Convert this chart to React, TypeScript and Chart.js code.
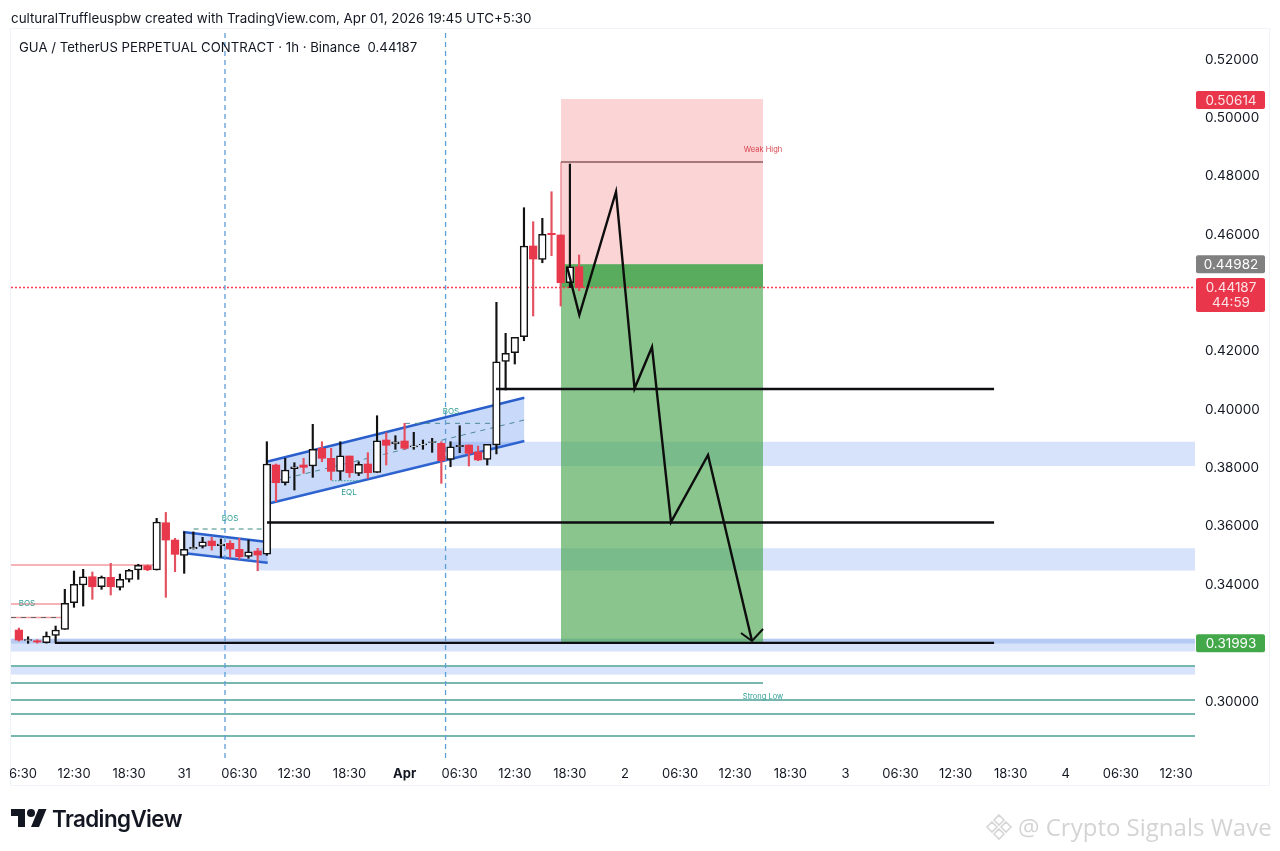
import React, { useEffect, useRef } from "react";
import { Chart, registerables } from "chart.js";

Chart.register(...registerables);

// ---- candles (hourly) -------------------------------------------------
const candleHours = [-6,-5,-4,-3,-2,-1,0,1,2,3,4,5,6,7,8,9,10,11,12,13,14,15,16,17,18,19,20,21,22,23,24,25,26,27,28,29,30,31,32,33,34,35,36,37,38,39,40,41,42,43,44,45,46,47,48,49,50,51,52,53,54,55];
const opens = [0.32449,0.32089,0.32082,0.32013,0.32267,0.32473,0.33384,0.33991,0.34276,0.33933,0.34255,0.33912,0.34186,0.34505,0.34652,0.34505,0.36126,0.35533,0.35008,0.35234,0.35317,0.35499,0.35338,0.3542,0.35214,0.34974,0.35156,0.35053,0.38104,0.37497,0.37977,0.38104,0.3807,0.38676,0.38333,0.37887,0.38412,0.37819,0.38138,0.37853,0.3896,0.38823,0.38926,0.3872,0.38789,0.38882,0.38847,0.38299,0.38731,0.38789,0.38551,0.38299,0.38789,0.41657,0.41952,0.42501,0.45609,0.45153,0.46044,0.45986,0.44351,0.44899];
const highs = [0.32517,0.32219,0.32117,0.32383,0.32586,0.33844,0.34471,0.34529,0.34437,0.343,0.34735,0.34368,0.34529,0.347,0.34676,0.36277,0.36479,0.35591,0.35812,0.35812,0.35626,0.35626,0.35568,0.3551,0.35591,0.35533,0.35248,0.38902,0.38138,0.38333,0.38183,0.38333,0.39498,0.38902,0.38676,0.38902,0.38412,0.38217,0.38526,0.39793,0.3921,0.39108,0.39533,0.39224,0.3896,0.39018,0.38902,0.38902,0.3945,0.38789,0.38755,0.38813,0.43679,0.42616,0.4248,0.46921,0.46441,0.46558,0.47469,0.45986,0.48418,0.453];
const lows = [0.32072,0.31993,0.32,0.32,0.32013,0.32473,0.33227,0.33271,0.33501,0.33844,0.33648,0.3382,0.34094,0.34186,0.34481,0.34505,0.3357,0.34447,0.34392,0.35224,0.35258,0.3519,0.3494,0.3494,0.34872,0.34906,0.34481,0.35008,0.36846,0.37418,0.37247,0.37819,0.37682,0.38217,0.37589,0.37589,0.37682,0.3774,0.37648,0.37853,0.38104,0.38642,0.38642,0.38642,0.38642,0.38539,0.37476,0.38045,0.38526,0.3807,0.38251,0.38104,0.38483,0.40674,0.41565,0.42363,0.4321,0.45035,0.45276,0.43553,0.4418,0.44076];
const closes = [0.32106,0.32123,0.32038,0.32243,0.32449,0.33364,0.34015,0.34276,0.33933,0.34255,0.33933,0.34186,0.34495,0.34666,0.34515,0.3615,0.35533,0.35043,0.35214,0.35282,0.35475,0.35338,0.35396,0.35224,0.3496,0.35132,0.35019,0.38138,0.37497,0.37932,0.38045,0.38025,0.38642,0.38333,0.37887,0.38422,0.3784,0.38127,0.3784,0.38936,0.38779,0.38902,0.38676,0.38765,0.38813,0.38902,0.38251,0.38731,0.38779,0.38505,0.38277,0.38813,0.41644,0.41932,0.4248,0.45609,0.45163,0.46009,0.45996,0.44351,0.44899,0.44187];

// ---- axes ---------------------------------------------------------------
const xTickHours = [-6,0,6,12,18,24,30,36,42,48,54,60,66,72,78,84,90,96,102,108,114,120];
const xTickLabels = ["06:30","12:30","18:30","31","06:30","12:30","18:30","Apr","06:30","12:30","18:30","2","06:30","12:30","18:30","3","06:30","12:30","18:30","4","06:30","12:30"];
const boldTickLabels = ["Apr"];
const yTickValues = [0.52,0.5,0.48,0.46,0.42,0.4,0.38,0.36,0.34,0.3];

const hourMin = -6.86;
const hourMax = 122.07;
const priceMin = 0.28064;
const priceMax = 0.53045;

// ---- hand-drawn forecast path --------------------------------------------
const forecastHours = [53.69,55.03,59.02,61.04,62.94,65.01,69.04,73.83];
const forecastPrices = [0.44908,0.43244,0.47469,0.40725,0.42147,0.3615,0.38446,0.32072];
const arrowHours = [72.63,73.83,75.03];
const arrowPrices = [0.32346,0.32072,0.32483];

// ---- zones and levels: [hourFrom, hourTo, priceA, priceB] ----------------
const blueZones = [
  [40.95,hourMax,0.38902,0.38069],
  [20.04,hourMax,0.35249,0.34488],
  [hourMin,hourMax,0.3214,0.31712],
  [hourMin,hourMax,0.31215,0.30924],
];
const tealLevels = [[hourMin,hourMax,0.31215],[hourMin,75.03,0.30633],[hourMin,hourMax,0.3005],[hourMin,hourMax,0.2957],[hourMin,hourMax,0.28817]];
const pinkLevels = [[hourMin,8.82,0.34676],[hourMin,-1.09,0.3334],[hourMin,-1.09,0.32878]];
const blackLevels = [[45.95,100.19,0.40708],[21.02,100.19,0.36133],[-2.07,100.19,0.3201]];
const sessionMarks = [16.44,40.46];
const tradeHours = [53.03,75.03];
const tradeStop = 0.5065;
const tradeEntry = 0.44982;
const tradeTarget = 0.3201;
const lastPrice = 0.44187;
const weakHigh = 0.48487;

const flagHours = [11.87,21.09];
const flagUpper = [0.35808,0.35465];
const flagLower = [0.35088,0.34755];
const channelHours = [20.98,49.04];
const channelUpper = [0.38217,0.4041];
const channelLower = [0.36767,0.38926];
const channelMid = [0.37487,0.39646];

// ---- texts ---------------------------------------------------------------
const captionText = "culturalTruffleuspbw created with TradingView.com, Apr 01, 2026 19:45 UTC+5:30";
const symbolText = "GUA / TetherUS PERPETUAL CONTRACT · 1h · Binance  0.44187";
const watermarkText = "@ Crypto Signals Wave";
const chartLabels = [
  { text: "BOS", hour: -5.12, price: 0.3334, color: "#2f9e94", size: 8 },
  { text: "BOS", hour: 16.99, price: 0.36253, color: "#2f9e94", size: 8 },
  { text: "BOS", hour: 41.05, price: 0.3992, color: "#2f9e94", size: 8 },
  { text: "EQL", hour: 29.95, price: 0.37144, color: "#2f9e94", size: 8 },
  { text: "Weak High", hour: 75.03, price: 0.48898, color: "#d8434f", size: 7.5 },
  { text: "Strong Low", hour: 75.03, price: 0.30153, color: "#2f9e94", size: 7.5 },
];
const priceTags = [
  { price: 0.50614, lines: ["0.50614"], color: "#e9364a" },
  { price: 0.44982, lines: ["0.44982"], color: "#808080" },
  { price: 0.44187, lines: ["0.44187", "44:59"], color: "#e9364a" },
  { price: 0.31993, lines: ["0.31993"], color: "#43a84a" },
];

const UI_FONT = "Inter, 'Noto Sans', sans-serif";
const RED = "#e8384c";
const BLACK = "#111";

const seg = (
  xs: number[],
  ys: number[],
  color: string,
  width: number,
  order: number,
  dash: number[] = []
) => ({
  type: "line" as const,
  data: xs.map((x, i) => ({ x, y: ys[i] })),
  borderColor: color,
  borderWidth: width,
  borderDash: dash,
  pointRadius: 0,
  tension: 0,
  fill: false,
  order,
  borderCapStyle: "butt" as const,
  borderJoinStyle: "miter" as const,
});

const box = (x0: number, x1: number, p0: number, p1: number, color: string, order: number) => ({
  type: "line" as const,
  data: [{ x: x0, y: p0 }, { x: x1, y: p0 }],
  borderWidth: 0,
  borderColor: "transparent",
  backgroundColor: color,
  pointRadius: 0,
  fill: { value: p1 },
  order,
});

const frameAndText = {
  id: "frameAndText",
  beforeDraw(chart: any) {
    const c = chart.ctx;
    c.save();
    c.fillStyle = "#fff";
    c.fillRect(0, 0, chart.width, chart.height);
    c.strokeStyle = "#eff2f7";
    c.lineWidth = 1;
    c.strokeRect(10.5, 28.5, 1259, 757);
    c.restore();
  },
  afterDraw(chart: any) {
    const c = chart.ctx;
    const sx = chart.scales.x;
    const sy = chart.scales.y;
    c.save();
    // first time label is cut off by the pane's left edge
    c.fillStyle = "#fff";
    c.fillRect(0, sy.bottom + 2, 10, 26);
    c.textAlign = "center";
    c.textBaseline = "middle";
    chartLabels.forEach((l) => {
      c.font = `${l.size}px ${UI_FONT}`;
      c.fillStyle = l.color;
      c.fillText(l.text, sx.getPixelForValue(l.hour), sy.getPixelForValue(l.price));
    });
    c.font = `13.5px ${UI_FONT}`;
    priceTags.forEach((t) => {
      const y = sy.getPixelForValue(t.price);
      const h = t.lines.length > 1 ? 34 : 18;
      const top = t.lines.length > 1 ? y - 9.5 : y - 9;
      c.fillStyle = t.color;
      c.beginPath();
      c.roundRect(chart.chartArea.right + 1, top, 69, h, 2);
      c.fill();
      c.fillStyle = t.color === "#e9364a" ? "#fde3e6" : "#fff";
      t.lines.forEach((line, i) => {
        c.fillText(line, chart.chartArea.right + 36, top + 9.5 + i * 15);
      });
    });
    c.restore();
  },
};

export default function App() {
  const ref = useRef<HTMLCanvasElement>(null);

  useEffect(() => {
    if (!ref.current) return;
    const isUp = candleHours.map((_, i) => closes[i] >= opens[i]);
    const candles = candleHours.map((x, i) => ({ x, y: [opens[i], closes[i]] }));
    const wicks = candleHours.map((x, i) => ({ x, y: [lows[i], highs[i]] }));

    const datasets: any[] = [
      ...blueZones.map((z) => box(z[0], z[1], z[2], z[3], "#d6e3fb", 30)),
      box(hourMin, hourMax, 0.32158, 0.31986, "rgba(70,120,220,0.22)", 29),
      box(tradeHours[0], tradeHours[1], tradeStop, tradeEntry, "rgba(244,120,125,0.32)", 28),
      box(tradeHours[0], tradeHours[1], tradeEntry, tradeTarget, "rgba(70,165,75,0.64)", 28),
      box(tradeHours[0], tradeHours[1], tradeEntry, lastPrice, "rgba(50,150,55,0.55)", 27),
      ...tealLevels.map((l) => seg([l[0], l[1]], [l[2], l[2]], "#78b7b0", 2, 26)),
      ...pinkLevels.map((l) => seg([l[0], l[1]], [l[2], l[2]], "#f09a9e", 1.5, 26)),
      seg([hourMin, -1.09], [0.32878, 0.32878], "#666", 1.2, 25, [5, 5]),
      seg([13.03, 21.1], [0.35911, 0.35911], "#3a8a7e", 1, 25, [5, 4]),
      seg([tradeHours[0], tradeHours[1]], [weakHigh, weakHigh], "#8c5a5c", 1.3, 25),
      seg([tradeHours[0], tradeHours[0]], [weakHigh, 0.44351], "#e98a90", 1.3, 25),
      seg([hourMin, hourMax], [lastPrice, lastPrice], "#ff3b50", 1.5, 25, [2, 2]),
      // flag channel: filled between upper and lower border
      { ...seg(flagHours, flagUpper, "#2a5fcb", 2.4, 22), fill: "+1", backgroundColor: "rgba(75,130,235,0.3)" },
      seg(flagHours, flagLower, "#2a5fcb", 2.4, 22),
      // rising channel
      { ...seg(channelHours, channelUpper, "#2a5fcb", 2.4, 22), fill: "+1", backgroundColor: "rgba(75,130,235,0.3)" },
      seg(channelHours, channelLower, "#2a5fcb", 2.4, 22),
      seg(channelHours, channelMid, "#4d8a94", 1, 21, [5, 5]),
      seg([36.05, 45.8], [0.39532, 0.39532], "#4d8a94", 1, 21, [5, 5]),
      seg([28.1, 31.1], [0.37565, 0.37565], "#2f9e94", 1, 21, [1.5, 1.5]),
      ...sessionMarks.map((h) => seg([h, h], [priceMin, priceMax], "#5f9fd8", 1.3, 20, [5, 4])),
      {
        type: "bar",
        data: wicks,
        backgroundColor: isUp.map((u) => (u ? BLACK : "#e4505f")),
        borderWidth: 0,
        barThickness: 1.5,
        grouped: false,
        order: 10,
      },
      {
        type: "bar",
        data: candles,
        backgroundColor: isUp.map((u) => (u ? "#fff" : RED)),
        borderColor: isUp.map((u) => (u ? BLACK : RED)),
        borderWidth: isUp.map((u) => (u ? 1.5 : 0)),
        borderSkipped: false,
        barThickness: 7.6,
        grouped: false,
        order: 9,
      },
      ...blackLevels.map((l) => seg([l[0], l[1]], [l[2], l[2]], "#0d0d12", 2.4, 3)),
      seg(forecastHours, forecastPrices, "#0d0d0d", 2.4, 2),
      seg(arrowHours, arrowPrices, "#0d0d0d", 2, 2),
    ];

    const chart = new Chart(ref.current, {
      type: "bar",
      data: { datasets },
      plugins: [frameAndText],
      options: {
        responsive: false,
        animation: false,
        devicePixelRatio: 1,
        layout: { padding: { left: 11, top: 29, right: 0, bottom: 65 } },
        plugins: { legend: { display: false }, tooltip: { enabled: false }, title: { display: false } },
        events: [],
        scales: {
          x: {
            type: "linear",
            min: hourMin,
            max: hourMax,
            offset: false,
            grid: { display: false, offset: false, drawTicks: false },
            border: { display: false },
            afterBuildTicks: (s: any) => {
              s.ticks = xTickHours.map((value) => ({ value }));
            },
            afterFit: (s: any) => {
              s.height = 28;
              s.paddingLeft = 0;
              s.paddingRight = 0;
            },
            ticks: {
              autoSkip: false,
              maxRotation: 0,
              padding: 8,
              color: "#131722",
              callback: (v: any) => xTickLabels[xTickHours.indexOf(v)],
              font: (ctx: any) => {
                const label = xTickLabels[xTickHours.indexOf(ctx.tick?.value)];
                return boldTickLabels.includes(label)
                  ? { family: UI_FONT, size: 13, weight: "bold" }
                  : { family: UI_FONT, size: 13, weight: "normal" };
              },
            },
          },
          y: {
            type: "linear",
            position: "right",
            min: priceMin,
            max: priceMax,
            beginAtZero: false,
            grid: { display: false, drawTicks: false },
            border: { display: false },
            afterBuildTicks: (s: any) => {
              s.ticks = yTickValues.map((value) => ({ value }));
            },
            afterFit: (s: any) => {
              s.width = 85;
              s.paddingTop = 0;
              s.paddingBottom = 0;
            },
            ticks: {
              padding: 10,
              color: "#131722",
              font: { family: UI_FONT, size: 13.5 },
              callback: (v: any) => Number(v).toFixed(5),
            },
          },
        },
      } as any,
    } as any);
    return () => chart.destroy();
  }, []);

  return (
    <div style={{ position: "absolute", left: 0, top: 0, width: 1280, height: 851, background: "#fff", overflow: "hidden" }}>
      <canvas ref={ref} width={1280} height={851} style={{ display: "block", width: 1280, height: 851 }} />
      <div style={{ position: "absolute", left: 11, top: 10, font: `13.37px ${UI_FONT}`, color: "#131722", whiteSpace: "pre" }}>{captionText}</div>
      <div style={{ position: "absolute", left: 19, top: 39, font: `13.2px ${UI_FONT}`, color: "#131722", whiteSpace: "pre" }}>{symbolText}</div>
      <svg style={{ position: "absolute", left: 11, top: 805 }} width="36" height="28" viewBox="0 0 36 28">
        <path d="M14 22H7V11H0V4h14v18zM28 22h-8l7.5-18h8L28 22z" fill="#131722" />
        <circle cx="20" cy="8" r="4" fill="#131722" />
      </svg>
      <div style={{ position: "absolute", left: 52, top: 805, font: `600 22.4px ${UI_FONT}`, letterSpacing: -0.6, color: "#131722", whiteSpace: "pre" }}>TradingView</div>
      <svg style={{ position: "absolute", left: 985, top: 813 }} width="28" height="28" viewBox="0 0 28 28" fill="none" stroke="#d6d6d6" strokeWidth="1.6">
        <path d="M14 2l5 5-5 5-5-5zM14 16l5 5-5 5-5-5zM7 9l5 5-5 5-5-5zM21 9l5 5-5 5-5-5z" />
      </svg>
      <div style={{ position: "absolute", left: 1018, top: 810, font: `24px 'Open Sans', sans-serif`, color: "#d4d4d4", whiteSpace: "pre" }}>{watermarkText}</div>
    </div>
  );
}
